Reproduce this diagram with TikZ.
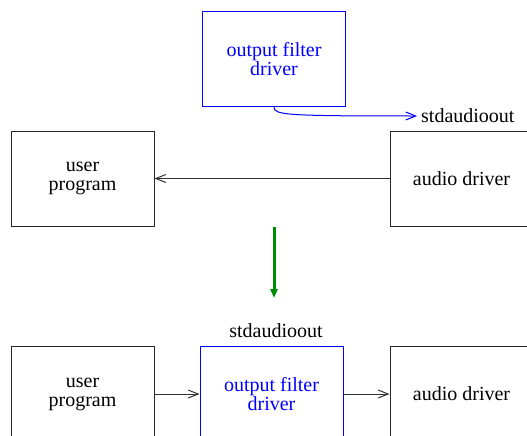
\documentclass[tikz,border=0pt]{standalone}
\usepackage{fontspec}
\setmainfont{Liberation Serif}
\newfontfamily\labelface{Liberation Serif}
\usetikzlibrary{arrows.meta}
\definecolor{flowgreen}{RGB}{0,140,0}
\tikzset{
  box/.style={draw=black!85, line width=1pt, minimum width=143pt, minimum height=95pt,
    inner sep=0pt, align=center, font=\labelface\fontsize{20}{19}\selectfont},
  filterbox/.style={box, draw=blue, text=blue},
  lbl/.style={font=\labelface\fontsize{20}{19}\selectfont, inner sep=0pt},
  flow/.style={draw=black!80, line width=1pt, -{Straight Barb[length=10pt,width=8pt,line width=1pt]}},
  bflow/.style={flow, draw=blue},
  stepdown/.style={draw=flowgreen, line width=3pt, -{Triangle[length=9pt,width=7pt]}}
}
\begin{document}
\begin{tikzpicture}[x=1pt,y=-1pt]
\useasboundingbox (0,0) rectangle (527,436);
% upper configuration
\node[filterbox] (of1) at (274,59) {output filter\\driver};
\node[box] (up1) at (82.5,178.5) {user\\program};
\node[box] (ad1) at (461.5,178.5) {audio driver};
\node[lbl, anchor=west] (so1) at (421,116) {stdaudioout};
\coordinate (tip1) at (417,116);
\draw[bflow] (of1.south) .. controls (274,115) and (285,116) .. (tip1);
\draw[flow] (ad1.west) -- (up1.east);
% transition arrow
\coordinate (g1) at (274,227);
\coordinate (g2) at (274,298);
\draw[stepdown] (g1) -- (g2);
% lower configuration
\node[box] (up2) at (82.5,394) {user\\program};
\node[filterbox] (of2) at (271.5,394) {output filter\\driver};
\node[box] (ad2) at (461.5,394) {audio driver};
\node[lbl] (so2) at (276,331) {stdaudioout};
\draw[flow] (up2.east) -- (of2.west);
\draw[flow] (of2.east) -- (ad2.west);
\end{tikzpicture}
\end{document}
